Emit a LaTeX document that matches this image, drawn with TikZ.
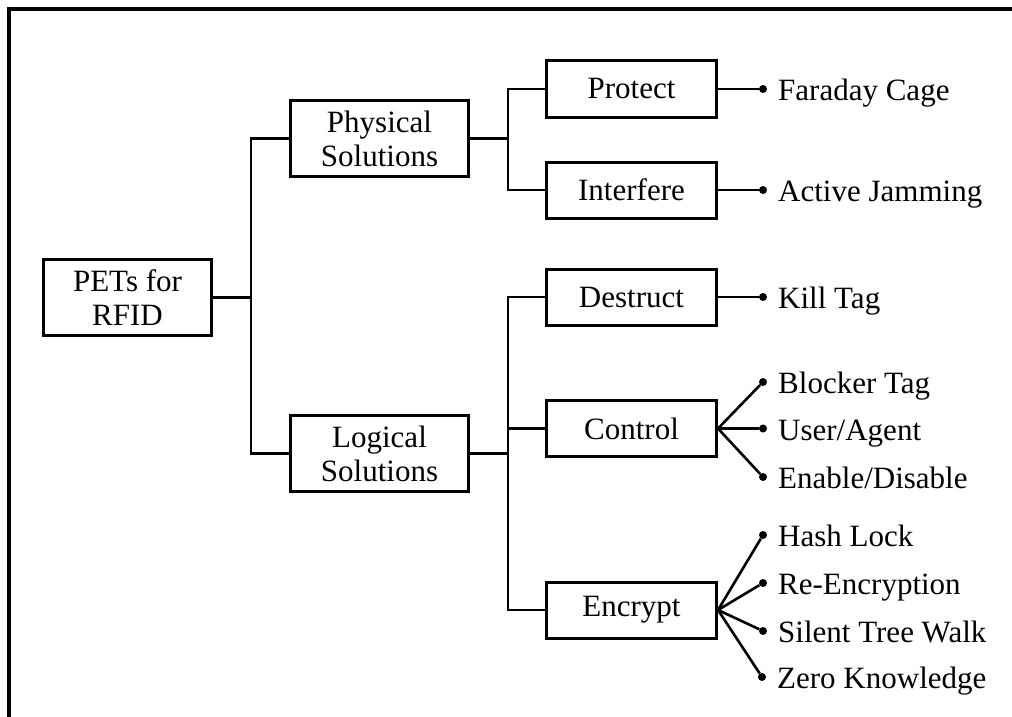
\documentclass[tikz,border=0pt]{standalone}
\usepackage{fontspec}
\setmainfont{Liberation Serif}
\begin{document}
\begin{tikzpicture}[x=1pt,y=-1pt,
  box/.style={draw,line width=3pt,align=center,inner sep=0pt,
    font=\fontsize{31}{34}\selectfont},
  bigbox/.style={box,minimum width=178pt,minimum height=76pt},
  smallbox/.style={box,minimum width=170pt,minimum height=56pt},
  conn/.style={line width=2.6pt},
  dotnode/.style={circle,fill,inner sep=0pt,minimum size=8pt},
  lbl/.style={anchor=base west,inner sep=0pt,font=\fontsize{31}{34}\selectfont},
  frame/.style={line width=3.2pt}]
\useasboundingbox (0,0) rectangle (1012,717);
\draw[frame] (9,730) -- (9,9) -- (1030,9);

\node[box,minimum width=168pt,minimum height=76pt] (pets) at (127.5,297.5) {PETs for\\RFID};
\node[bigbox] (phys) at (379.5,138.5) {Physical\\Solutions};
\node[bigbox] (logi) at (379.5,453.5) {Logical\\Solutions};

\node[smallbox] (prot) at (631.5,89) {Protect};
\node[smallbox] (intf) at (631.5,190) {Interfere};
\node[smallbox] (dest) at (631.5,297) {Destruct};
\node[smallbox] (ctrl) at (631.5,428.5) {Control};
\node[smallbox] (encr) at (631.5,610) {Encrypt};

\coordinate (j1) at (251,297.5);
\coordinate (j2) at (508,138.5);
\coordinate (j3) at (508,453.5);

\draw[conn] (pets.east) -- (j1);
\draw[conn] (j1) |- (phys.west);
\draw[conn] (j1) |- (logi.west);
\draw[conn] (phys.east) -- (j2);
\draw[conn] (j2) |- (prot.west);
\draw[conn] (j2) |- (intf.west);
\draw[conn] (logi.east) -- (j3);
\draw[conn] (j3) |- (dest.west);
\draw[conn] (j3) |- (ctrl.west);
\draw[conn] (j3) |- (encr.west);

\node[dotnode] (d1) at (763,89) {};
\node[dotnode] (d2) at (763,190) {};
\node[dotnode] (d3) at (763,297) {};
\node[dotnode] (d4) at (763,382) {};
\node[dotnode] (d5) at (763,428.5) {};
\node[dotnode] (d6) at (763,477) {};
\node[dotnode] (d7) at (763,535) {};
\node[dotnode] (d8) at (763,583) {};
\node[dotnode] (d9) at (763,631) {};
\node[dotnode] (d10) at (762,677) {};

\draw[conn] (prot.east) -- (d1);
\draw[conn] (intf.east) -- (d2);
\draw[conn] (dest.east) -- (d3);
\draw[conn] (ctrl.east) -- (d4);
\draw[conn] (ctrl.east) -- (d5);
\draw[conn] (ctrl.east) -- (d6);
\draw[conn] (encr.east) -- (d7);
\draw[conn] (encr.east) -- (d8);
\draw[conn] (encr.east) -- (d9);
\draw[conn] (encr.east) -- (d10);

\node[lbl] (t1) at (778,100) {Faraday Cage};
\node[lbl] (t2) at (778,201) {Active Jamming};
\node[lbl] (t3) at (778,308) {Kill Tag};
\node[lbl] (t4) at (778,393) {Blocker Tag};
\node[lbl] (t5) at (778,440) {User/Agent};
\node[lbl] (t6) at (778,488) {Enable/Disable};
\node[lbl] (t7) at (778,546) {Hash Lock};
\node[lbl] (t8) at (778,594) {Re-Encryption};
\node[lbl] (t9) at (778,642) {Silent Tree Walk};
\node[lbl] (t10) at (777,688) {Zero Knowledge};
\end{tikzpicture}
\end{document}
